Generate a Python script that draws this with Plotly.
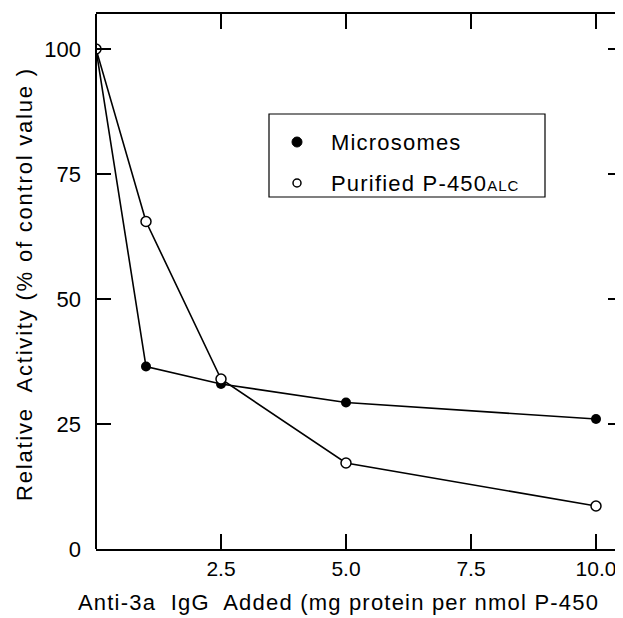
import plotly.graph_objects as go

# Data
dose = [0, 1, 2.5, 5, 10]
microsomes = [100, 36.5, 33, 29.3, 26]
purified = [100, 65.5, 34, 17.2, 8.6]

x_ticks = [2.5, 5, 7.5, 10]
x_tick_labels = ["2.5", "5.0", "7.5", "10.0"]
y_ticks = [0, 25, 50, 75, 100]
y_tick_labels = ["0", "25", "50", "75", "100"]

FONT = "Liberation Sans, Arial, sans-serif"

fig = go.Figure()
fig.add_trace(go.Scatter(
    x=dose, y=microsomes, name="Microsomes", mode="lines+markers",
    line=dict(color="black", width=1.6),
    marker=dict(symbol="circle", size=10, color="black"),
    showlegend=False,
))
fig.add_trace(go.Scatter(
    x=dose, y=purified, name="Purified P-450ALC", mode="lines+markers",
    line=dict(color="black", width=1.6),
    marker=dict(symbol="circle", size=10, color="white",
                line=dict(color="black", width=1.5)),
    showlegend=False,
))

# The page body adds an 8px offset; all screen targets are shifted by it.
OFF = 8
W, H = 623 - OFF, 618 - OFF
L, R, T, B = 96 - OFF, 0, 14 - OFF, 618 - 549
pw, ph = W - L - R, H - T - B

def px(xs):
    return (xs - OFF - L) / pw

def py(ys):
    return (H - B - (ys - OFF)) / ph

def spaced(s, ls):
    return "<span style='letter-spacing:%spx'>%s</span>" % (ls, s)

fig.update_layout(
    width=W, height=H, autosize=False,
    margin=dict(l=L, r=R, t=T, b=B, pad=0),
    paper_bgcolor="white", plot_bgcolor="white",
    font=dict(family=FONT, color="black", size=22),
    showlegend=False,
    xaxis=dict(
        range=[0, pw / 50.0], showgrid=False, zeroline=False,
        showline=True, linecolor="black", linewidth=2, mirror="ticks",
        ticks="inside", ticklen=15, tickwidth=2, tickcolor="black",
        tickvals=x_ticks, ticktext=x_tick_labels,
        tickfont=dict(size=21), ticklabelstandoff=0,
    ),
    yaxis=dict(
        range=[0, 107], showgrid=False, zeroline=False,
        showline=False, mirror="ticks",
        ticks="inside", ticklen=15, tickwidth=2, tickcolor="black",
        tickvals=y_ticks, ticktext=y_tick_labels,
        tickfont=dict(size=22), ticklabelstandoff=14,
    ),
    shapes=[
        dict(type="line", xref="paper", yref="paper", x0=0, x1=0, y0=0, y1=1,
             line=dict(color="black", width=2)),
        dict(type="rect", xref="paper", yref="paper",
             x0=px(269), x1=px(545), y0=py(197), y1=py(114),
             line=dict(color="black", width=1.2), fillcolor="white", layer="above"),
        dict(type="circle", xref="paper", yref="paper", xsizemode="pixel", ysizemode="pixel",
             xanchor=px(297), yanchor=py(142), x0=-5, x1=5, y0=-5, y1=5,
             fillcolor="black", line=dict(color="black", width=1), layer="above"),
        dict(type="circle", xref="paper", yref="paper", xsizemode="pixel", ysizemode="pixel",
             xanchor=px(297), yanchor=py(183), x0=-4, x1=4, y0=-4, y1=4,
             fillcolor="white", line=dict(color="black", width=1.5), layer="above"),
    ],
    annotations=[
        dict(text=spaced("Microsomes", 1.2), xref="paper", yref="paper",
             x=px(329), y=py(142), xanchor="left", yanchor="middle",
             showarrow=False, font=dict(size=22)),
        dict(text=spaced("Purified P-450", 1.2) + "<span style='font-size:15px;letter-spacing:1px'>ALC</span>",
             xref="paper", yref="paper", x=px(329), y=py(183),
             xanchor="left", yanchor="middle", showarrow=False, font=dict(size=22)),
        dict(text=spaced("Relative  Activity (% of control value )", 1.8),
             xref="paper", yref="paper",
             x=px(24), y=py(284), xanchor="center", yanchor="middle", textangle=-90,
             showarrow=False, font=dict(size=22)),
        dict(text=spaced("Anti-3a  IgG  Added (mg protein per nmol P-450", 1.2),
             xref="paper", yref="paper",
             x=px(76), y=py(602), xanchor="left", yanchor="middle",
             showarrow=False, font=dict(size=22)),
    ],
)

fig.write_html("out.html")
